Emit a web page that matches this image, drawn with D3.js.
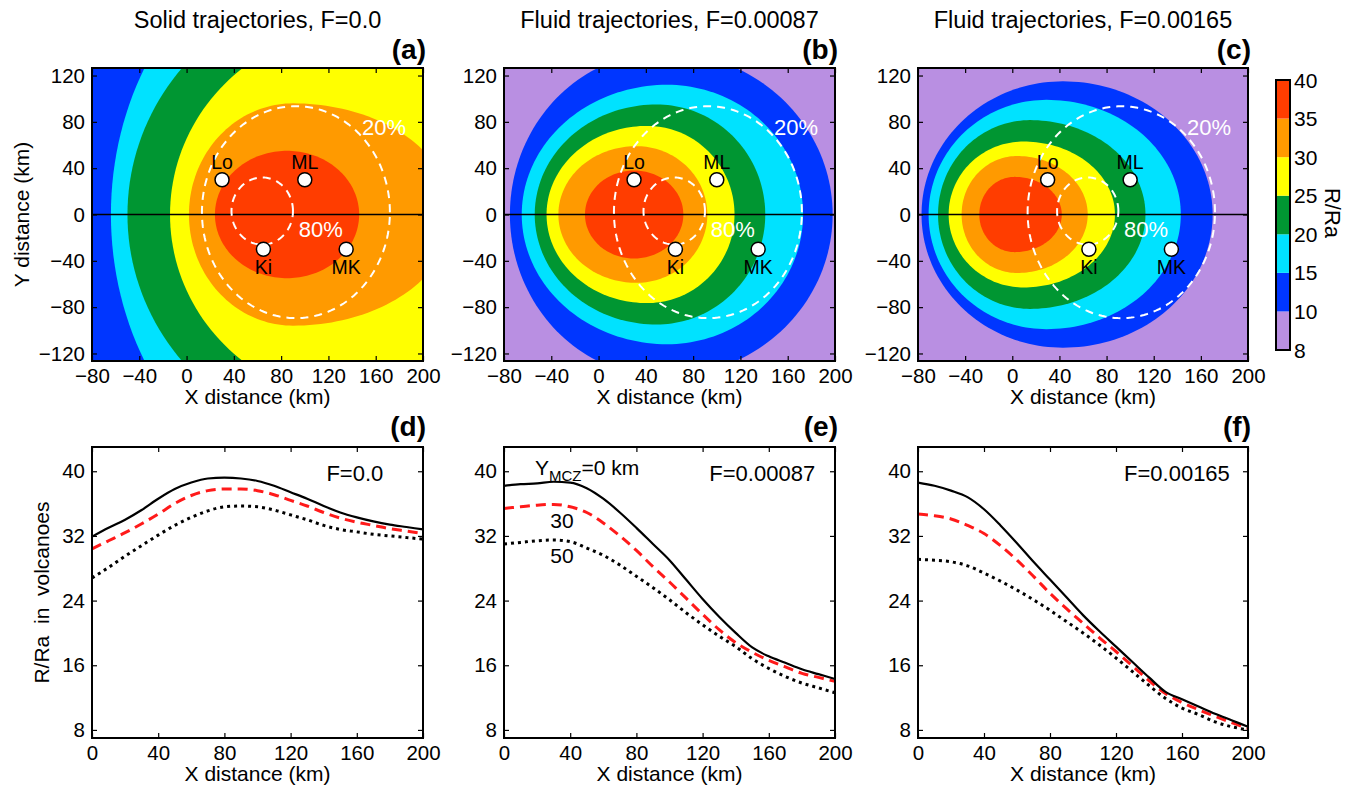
<!DOCTYPE html>
<html>
<head>
<meta charset="utf-8">
<script src="https://d3js.org/d3.v7.min.js"></script>
<title>R/Ra maps and profiles</title>
<style>
  body { margin: 0; background: #fff; }
  svg { display: block; font-family: "Liberation Sans", Arial, Helvetica, sans-serif; }
</style>
</head>
<body>
<script>
var W = 1354, H = 788;

// ---- data ----
var levels = [8, 10, 15, 20, 25, 30, 35, 40];
var bandColors = ["#b98fe2", "#0036ff", "#00e2ff", "#009632", "#ffff00", "#ff9a00", "#ff3d00"];

var topTitles = ["Solid trajectories, F=0.0", "Fluid trajectories, F=0.00087", "Fluid trajectories, F=0.00165"];
var topTags = ["(a)", "(b)", "(c)"];
var bottomTags = ["(d)", "(e)", "(f)"];
var fLabels = ["F=0.0", "F=0.00087", "F=0.00165"];
var fLabelX = [176, 188, 189];

var mapXTicks = [-80, -40, 0, 40, 80, 120, 160, 200];
var mapYTicks = [-120, -80, -40, 0, 40, 80, 120];
var profXTicks = [0, 40, 80, 120, 160, 200];
var profYTicks = [8, 16, 24, 32, 40];

var volcanoNames = ["Lo", "ML", "Ki", "MK"];
var volcanoX = [30, 100, 65, 135];
var volcanoY = [30, 30, -30, -30];

// probability contours (white dashed), same in all three maps
var probContours = [
  { cx: 92.5, cy: 2, rx: 79.5, ry: 91.5 },
  { cx: 64, cy: 3, rx: 26, ry: 29 }
];
var probLabels = ["20%", "80%"];
var probLabelX = [167, 113.5];
var probLabelY = [68.6, -19.4];

// R/Ra contour boundaries (egg shapes: centre, left / right half-widths, half-height)
var contoursA = [
  { level: 15, cx: 150, rxL: 214, rxR: 300, ry: 254 },
  { level: 20, cx: 150, rxL: 200, rxR: 300, ry: 198 },
  { level: 25, cx: 150, rxL: 164, rxR: 300, ry: 162 },
  { level: 30, cx: 90, rxL: 88, rxR: 135, ry: 96 },
  { level: 35, cx: 85, rxL: 61, rxR: 61, ry: 55 }
];
var contoursB = [
  { level: 10, cx: 55, rxL: 130, rxR: 143, ry: 140 },
  { level: 15, cx: 58, rxL: 123, rxR: 115, ry: 112 },
  { level: 20, cx: 49, rxL: 103, rxR: 92, ry: 95 },
  { level: 25, cx: 41, rxL: 85, rxR: 74, ry: 76.5 },
  { level: 30, cx: 32, rxL: 66, rxR: 60, ry: 59 },
  { level: 35, cx: 30, rxL: 41.5, rxR: 41.7, ry: 38 }
];
var contoursC = [
  { level: 10, cx: 43, rxL: 120, rxR: 127, ry: 115 },
  { level: 15, cx: 29, rxL: 100, rxR: 114, ry: 99 },
  { level: 20, cx: 15, rxL: 78, rxR: 98, ry: 81.5 },
  { level: 25, cx: 9.5, rxL: 63.5, rxR: 77.6, ry: 63 },
  { level: 30, cx: 4, rxL: 47, rxR: 60, ry: 50.5 },
  { level: 35, cx: 2, rxL: 30, rxR: 40, ry: 32.5 }
];
var contourSets = [contoursA, contoursB, contoursC];

// R/Ra profiles along X (Y_MCZ = 0, 30, 50 km)
var profX = [0, 10, 20, 30, 40, 50, 60, 70, 80, 90, 100, 110, 120, 130, 140, 150, 160, 170, 180, 190, 200];
var solidD = [31.9, 33.0, 34.0, 35.2, 36.6, 37.8, 38.6, 39.1, 39.2, 39.1, 38.8, 38.2, 37.4, 36.6, 35.7, 34.9, 34.3, 33.8, 33.4, 33.1, 32.8];
var dashD  = [30.4, 31.4, 32.4, 33.5, 34.7, 36.0, 37.0, 37.6, 37.8, 37.8, 37.6, 37.1, 36.4, 35.7, 34.9, 34.2, 33.7, 33.3, 32.9, 32.6, 32.3];
var dotD   = [26.8, 28.1, 29.5, 30.8, 32.1, 33.3, 34.3, 35.1, 35.6, 35.7, 35.6, 35.2, 34.6, 34.0, 33.3, 32.8, 32.5, 32.2, 32.0, 31.8, 31.6];
var solidE = [38.2, 38.4, 38.5, 38.7, 38.6, 37.9, 36.6, 34.9, 33.0, 31.0, 29.0, 26.6, 24.2, 22.0, 20.0, 18.2, 17.1, 16.3, 15.5, 14.9, 14.3];
var dashE  = [35.4, 35.6, 35.8, 35.9, 35.6, 34.9, 33.6, 32.0, 30.2, 28.2, 26.3, 24.3, 22.3, 20.4, 18.8, 17.6, 16.6, 15.8, 15.0, 14.5, 14.0];
var dotE   = [31.0, 31.2, 31.4, 31.5, 31.3, 30.5, 29.6, 28.4, 27.0, 25.6, 24.1, 22.5, 21.0, 19.6, 18.3, 16.8, 15.6, 14.6, 13.8, 13.2, 12.6];
var solidF = [38.6, 38.2, 37.6, 36.8, 35.3, 33.3, 31.1, 28.8, 26.6, 24.4, 22.2, 20.2, 18.3, 16.4, 14.5, 12.7, 11.8, 10.9, 10.0, 9.2, 8.4];
var dashF  = [34.7, 34.5, 34.1, 33.3, 32.3, 30.8, 29.0, 27.0, 24.9, 23.0, 21.2, 19.4, 17.7, 15.9, 14.1, 12.5, 11.4, 10.5, 9.7, 8.9, 8.2];
var dotF   = [29.1, 29.0, 28.8, 28.3, 27.4, 26.4, 25.3, 24.1, 22.8, 21.4, 20.0, 18.5, 16.9, 15.2, 13.5, 11.9, 10.7, 9.9, 9.0, 8.4, 8.0];
var profileSets = [[solidD, dashD, dotD], [solidE, dashE, dotE], [solidF, dashF, dotF]];

// ---- layout ----
var colX = [[92, 423], [504, 835], [918, 1248]];
var topY = [68, 361], botY = [447, 738];

var svg = d3.select("body").append("svg").attr("width", W).attr("height", H);

function styleAxis(g, size) {
  g.attr("font-size", size).attr("font-family", null);
  g.select(".domain").remove();
  g.selectAll("line").attr("stroke", "#000").attr("stroke-width", 1.2);
  g.selectAll("text").attr("fill", "#000");
}

function addAxes(x, y, xt, yt, x0, x1, y0, y1) {
  svg.append("g").attr("transform", "translate(0," + y1 + ")")
    .call(d3.axisBottom(x).tickValues(xt).tickSizeInner(-5).tickSizeOuter(0).tickPadding(7))
    .call(styleAxis, 20.5);
  svg.append("g").attr("transform", "translate(0," + y0 + ")")
    .call(d3.axisTop(x).tickValues(xt).tickSizeInner(-5).tickSizeOuter(0).tickFormat(""))
    .call(styleAxis, 20.5);
  svg.append("g").attr("transform", "translate(" + x0 + ",0)")
    .call(d3.axisLeft(y).tickValues(yt).tickSizeInner(-5).tickSizeOuter(0).tickPadding(7))
    .call(styleAxis, 20.5);
  svg.append("g").attr("transform", "translate(" + x1 + ",0)")
    .call(d3.axisRight(y).tickValues(yt).tickSizeInner(-5).tickSizeOuter(0).tickFormat(""))
    .call(styleAxis, 20.5);
  svg.append("rect").attr("x", x0).attr("y", y0).attr("width", x1 - x0).attr("height", y1 - y0)
    .attr("fill", "none").attr("stroke", "#000").attr("stroke-width", 2);
}

function eggPoints(b) {
  return d3.range(0, 360, 2).map(function (a) {
    var t = a * Math.PI / 180, c = Math.cos(t), s = Math.sin(t);
    return [b.cx + (c >= 0 ? b.rxR : b.rxL) * c, b.ry * s];
  });
}
function ellPoints(e) {
  return d3.range(0, 360, 2).map(function (a) {
    var t = a * Math.PI / 180;
    return [e.cx + e.rx * Math.cos(t), e.cy + e.ry * Math.sin(t)];
  });
}

// ---- top row: contour maps ----
contourSets.forEach(function (set, i) {
  var x0 = colX[i][0], x1 = colX[i][1];
  var x = d3.scaleLinear().domain([-80, 200]).range([x0, x1]);
  var y = d3.scaleLinear().domain([-126.5, 126.5]).range([topY[1], topY[0]]);
  var line = d3.line().x(function (d) { return x(d[0]); }).y(function (d) { return y(d[1]); })
    .curve(d3.curveLinearClosed);

  svg.append("clipPath").attr("id", "clip" + i).append("rect")
    .attr("x", x0).attr("y", topY[0]).attr("width", x1 - x0).attr("height", topY[1] - topY[0]);
  var g = svg.append("g").attr("clip-path", "url(#clip" + i + ")");

  g.append("rect").attr("x", x0).attr("y", topY[0]).attr("width", x1 - x0).attr("height", topY[1] - topY[0])
    .attr("fill", bandColors[levels.indexOf(set[0].level) - 1]);
  g.selectAll("path.band").data(set).enter().append("path").attr("class", "band")
    .attr("d", function (d) { return line(eggPoints(d)); })
    .attr("fill", function (d) { return bandColors[levels.indexOf(d.level)]; });

  g.append("line").attr("x1", x0).attr("x2", x1).attr("y1", y(0)).attr("y2", y(0))
    .attr("stroke", "#000").attr("stroke-width", 1.5);

  g.selectAll("path.prob").data(probContours).enter().append("path").attr("class", "prob")
    .attr("d", function (d) { return line(ellPoints(d)); })
    .attr("fill", "none").attr("stroke", "#fff").attr("stroke-width", 2).attr("stroke-dasharray", "8,6");

  g.selectAll("text.prob").data(probLabels).enter().append("text").attr("class", "prob")
    .attr("x", function (d, k) { return x(probLabelX[k]); })
    .attr("y", function (d, k) { return y(probLabelY[k]); })
    .attr("text-anchor", "middle").attr("font-size", 22).attr("fill", "#fff").text(function (d) { return d; });

  g.selectAll("circle.v").data(volcanoNames).enter().append("circle").attr("class", "v")
    .attr("cx", function (d, k) { return x(volcanoX[k]); })
    .attr("cy", function (d, k) { return y(volcanoY[k]); })
    .attr("r", 7).attr("fill", "#fff").attr("stroke", "#000").attr("stroke-width", 1.5);
  g.selectAll("text.v").data(volcanoNames).enter().append("text").attr("class", "v")
    .attr("x", function (d, k) { return x(volcanoX[k]); })
    .attr("y", function (d, k) { return y(volcanoY[k]) + (volcanoY[k] > 0 ? -11 : 25); })
    .attr("text-anchor", "middle").attr("font-size", 19.5).text(function (d) { return d; });

  addAxes(x, y, mapXTicks, mapYTicks, x0, x1, topY[0], topY[1]);

  svg.append("text").attr("x", (x0 + x1) / 2).attr("y", 28).attr("text-anchor", "middle")
    .attr("font-size", 23.5).text(topTitles[i]);
  svg.append("text").attr("x", x1 + 3).attr("y", 59).attr("text-anchor", "end")
    .attr("font-size", 28).attr("font-weight", "bold").text(topTags[i]);
  svg.append("text").attr("x", (x0 + x1) / 2).attr("y", 404).attr("text-anchor", "middle")
    .attr("font-size", 21).text("X distance (km)");
});

svg.append("text").attr("transform", "translate(29," + ((topY[0] + topY[1]) / 2) + ") rotate(-90)")
  .attr("text-anchor", "middle").attr("font-size", 21).text("Y distance (km)");

// ---- colour bar ----
var cbX = 1276, cbW = 14;
var cb = d3.scaleLinear().domain([0, levels.length - 1]).range([350, 80]);
svg.selectAll("rect.cb").data(bandColors).enter().append("rect").attr("class", "cb")
  .attr("x", cbX).attr("width", cbW)
  .attr("y", function (d, k) { return cb(k + 1); })
  .attr("height", function (d, k) { return cb(k) - cb(k + 1); })
  .attr("fill", function (d) { return d; });
svg.append("rect").attr("x", cbX).attr("y", 80).attr("width", cbW).attr("height", 270)
  .attr("fill", "none").attr("stroke", "#000").attr("stroke-width", 2);
svg.selectAll("text.cb").data(levels).enter().append("text").attr("class", "cb")
  .attr("x", 1294).attr("y", function (d, k) { return cb(k); }).attr("dy", "0.36em")
  .attr("font-size", 21).text(function (d) { return d; });
svg.append("text").attr("transform", "translate(1325,213) rotate(90)")
  .attr("text-anchor", "middle").attr("font-size", 22).text("R/Ra");

// ---- bottom row: profiles ----
var lineStyles = [
  { color: "#000", width: 2.2, dash: null },
  { color: "#ff1a1a", width: 3, dash: "10,6" },
  { color: "#000", width: 3, dash: "3,4" }
];

profileSets.forEach(function (set, i) {
  var x0 = colX[i][0], x1 = colX[i][1];
  var x = d3.scaleLinear().domain([0, 200]).range([x0, x1]);
  var y = d3.scaleLinear().domain([7, 43]).range([botY[1], botY[0]]);
  var line = d3.line().x(function (d, k) { return x(profX[k]); }).y(function (d) { return y(d); })
    .curve(d3.curveMonotoneX);

  svg.selectAll("path.p" + i).data(set.slice().reverse()).enter().append("path").attr("class", "p" + i)
    .attr("d", function (d) { return line(d); })
    .attr("fill", "none")
    .attr("stroke", function (d, k) { return lineStyles[2 - k].color; })
    .attr("stroke-width", function (d, k) { return lineStyles[2 - k].width; })
    .attr("stroke-dasharray", function (d, k) { return lineStyles[2 - k].dash; });

  addAxes(x, y, profXTicks, profYTicks, x0, x1, botY[0], botY[1]);

  svg.append("text").attr("x", x(fLabelX[i])).attr("y", y(38.8)).attr("text-anchor", "end")
    .attr("font-size", 22).text(fLabels[i]);
  svg.append("text").attr("x", x1 + 3).attr("y", 436).attr("text-anchor", "end")
    .attr("font-size", 28).attr("font-weight", "bold").text(bottomTags[i]);
  svg.append("text").attr("x", (x0 + x1) / 2).attr("y", 781).attr("text-anchor", "middle")
    .attr("font-size", 21).text("X distance (km)");

  if (i === 1) {
    var t = svg.append("text").attr("x", x(18.7)).attr("y", y(39.5)).attr("font-size", 21);
    t.append("tspan").text("Y");
    t.append("tspan").attr("dy", 6).attr("font-size", 15).text("MCZ");
    t.append("tspan").attr("dy", -6).text("=0 km");
    svg.append("text").attr("x", x(35)).attr("y", y(33.0)).attr("text-anchor", "middle")
      .attr("font-size", 21).text("30");
    svg.append("text").attr("x", x(35)).attr("y", y(28.6)).attr("text-anchor", "middle")
      .attr("font-size", 21).text("50");
  }
});

svg.append("text").attr("transform", "translate(49," + ((botY[0] + botY[1]) / 2) + ") rotate(-90)")
  .attr("text-anchor", "middle").attr("font-size", 21).style("white-space", "pre")
  .text("R/Ra  in  volcanoes");
</script>
</body>
</html>
